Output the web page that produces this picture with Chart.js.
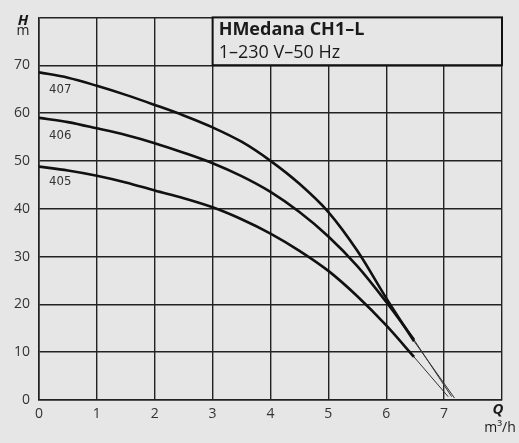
<!DOCTYPE html>
<html>
<head>
<meta charset="utf-8">
<script src="https://cdn.jsdelivr.net/npm/chart.js@4/dist/chart.umd.min.js"></script>
<style>
html,body{margin:0;padding:0;background:#e6e6e6;}
#wrap{width:519px;height:443px;}
</style>
</head>
<body>
<div id="wrap"><canvas id="c" width="519" height="443"></canvas></div>
<script>
const xTicks = [0,1,2,3,4,5,6,7];
const yTicks = [0,10,20,30,40,50,60,70];
const curveNames = ['407','406','405'];
const qMain = [0,0.5,1,1.5,2,2.5,3,3.5,4,4.5,5,5.5,6,6.48];
const h407 = [68.5,67.4,65.7,63.8,61.7,59.5,57,54,50,45.2,39.3,31.2,21.3,12.3];
const h406 = [59,58.1,56.8,55.4,53.7,51.7,49.5,46.8,43.5,39.3,34.2,28,20.5,12.6];
const h405 = [48.8,48,46.9,45.5,43.8,42.2,40.3,37.8,34.8,31.2,27,21.7,15.6,9];
const q407Tail = [6.48,7.18];
const h407Tail = [12.3,0.4];
const q406Tail = [6.48,7.13];
const h406Tail = [12.6,0.7];
const q405Tail = [6.48,7.07];
const h405Tail = [9,0.7];

const pts = (xs, ys) => xs.map((x,i)=>({x:x,y:ys[i]}));
const thick = (d) => ({data:d, showLine:true, borderColor:'#111', borderWidth:2.6, pointRadius:0, tension:0.35, fill:false});
const thin = (d) => ({data:d, showLine:true, borderColor:'#333', borderWidth:1, pointRadius:0, tension:0, fill:false});

const bgPlugin = {
  id:'bg',
  beforeDraw(chart){
    const c = chart.ctx;
    c.save(); c.fillStyle='#e6e6e6'; c.fillRect(0,0,chart.width,chart.height); c.restore();
  },
  afterDraw(chart){
    const c = chart.ctx, xs = chart.scales.x, ys = chart.scales.y;
    c.save();
    const x0 = xs.getPixelForValue(3), x1 = xs.getPixelForValue(8);
    const y0 = ys.getPixelForValue(80), y1 = ys.getPixelForValue(70);
    c.fillStyle='#e6e6e6';
    c.fillRect(x0,y0,x1-x0,y1-y0);
    c.strokeStyle='#111'; c.lineWidth=2;
    c.strokeRect(x0,y0,x1-x0,y1-y0);
    c.fillStyle='#1a1a1a';
    c.textBaseline='alphabetic'; c.textAlign='left';
    c.font='bold 18px "Open Sans", "Noto Sans", sans-serif';
    c.fillText('HMedana CH1–L', x0+6, y0+18);
    c.font='18px "Open Sans", "Noto Sans", sans-serif';
    c.fillText('1–230 V–50 Hz', x0+6, y0+41);
    c.font='13px "Liberation Sans Narrow", "DejaVu Sans Condensed", sans-serif';
    c.fillStyle='#333';
    c.textBaseline='middle';
    const lx = xs.getPixelForValue(0)+10;
    const labY = [65, 55.3, 45.7];
    curveNames.forEach((n,i)=>c.fillText(n, lx, ys.getPixelForValue(labY[i])));
    c.fillStyle='#1a1a1a';
    c.textAlign='center';
    c.font='italic bold 15px "Open Sans", "Noto Sans", sans-serif';
    c.fillText('H', 23, 21);
    c.font='14px "Open Sans", "Noto Sans", sans-serif';
    c.fillText('m', 23, 31);
    c.font='italic bold 15px "Open Sans", "Noto Sans", sans-serif';
    c.fillText('Q', 498, 410);
    c.font='14px "Open Sans", "Noto Sans", sans-serif';
    c.fillText('m³/h', 500, 428);
    c.restore();
  }
};

new Chart(document.getElementById('c'), {
  type:'scatter',
  data:{datasets:[
    thick(pts(qMain,h407)), thick(pts(qMain,h406)), thick(pts(qMain,h405)),
    thin(pts(q407Tail,h407Tail)), thin(pts(q406Tail,h406Tail)), thin(pts(q405Tail,h405Tail))
  ]},
  options:{
    responsive:false, animation:false, devicePixelRatio:1,
    layout:{padding:{left:0,top:12,right:17,bottom:0}},
    plugins:{legend:{display:false}, tooltip:{enabled:false}},
    scales:{
      x:{type:'linear', min:0, max:8,
        afterFit(s){ s.height=43; },
        afterBuildTicks(s){ s.ticks = xTicks.concat([8]).map(v=>({value:v})); },
        grid:{color:'#222', lineWidth:1.4, drawTicks:false},
        border:{color:'#222', width:1.6},
        ticks:{padding:6, color:'#333', font:{size:14, family:'"Open Sans", "Noto Sans", sans-serif'},
          callback:(v)=> xTicks.includes(v) ? String(v) : ''}
      },
      y:{type:'linear', min:0, max:80,
        afterFit(s){ s.width=39; },
        afterBuildTicks(s){ s.ticks = yTicks.concat([80]).map(v=>({value:v})); },
        grid:{color:'#222', lineWidth:1.4, drawTicks:false},
        border:{color:'#222', width:1.6},
        ticks:{padding:9, color:'#333', font:{size:14, family:'"Open Sans", "Noto Sans", sans-serif'},
          callback:(v)=> yTicks.includes(v) ? String(v) : ''}
      }
    }
  },
  plugins:[bgPlugin]
});
</script>
</body>
</html>
